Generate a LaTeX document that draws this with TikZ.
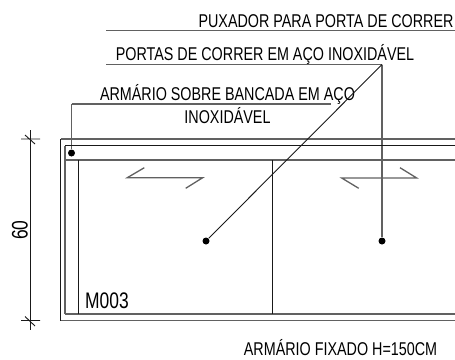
\documentclass[tikz,border=0pt]{standalone}
\usepackage{fontspec}
\setmainfont{Liberation Sans}[FakeStretch=0.775]
\usetikzlibrary{positioning}

\begin{document}
\begin{tikzpicture}[x=1pt, y=-1pt, thick]
 \tikzstyle{note} = [inner sep=0pt, font=\fontsize{18.5}{18.5}\selectfont, text=black]
 \tikzstyle{bignote} = [note, font=\fontsize{22.5}{22.5}\selectfont]
 \tikzstyle{dot} = [circle, fill=black, inner sep=0pt, minimum size=7pt]
 \tikzstyle{grayline} = [draw=black!62, line width=1.3pt]
 \tikzstyle{thinline} = [draw=black!90, line width=0.9pt]
 \useasboundingbox (0,0) rectangle (455,359);

   % texts
   \node[note] (puxador) at (326,21) {PUXADOR PARA PORTA DE CORRER};
   \node[note] (portas) at (265,54) {PORTAS DE CORRER EM AÇO INOXIDÁVEL};
   \node[note] (armario) at (227.5,94) {ARMÁRIO SOBRE BANCADA EM AÇO};
   \node[note] (inox) at (227.5,116) {INOXIDÁVEL};
   \node[note] (fixado) at (340.5,348) {ARMÁRIO FIXADO H=150CM};
   \node[bignote] (mcode) at (107,301) {M003};
   \node[bignote, rotate=90] (cota) at (20,230) {60};

   % leader dots
   \node[dot] (dotA) at (71.5,153) {};
   \node[dot] (dotB) at (206,241) {};
   \node[dot] (dotC) at (382,241) {};

   % free ends
   \coordinate (puxL) at (106,30.5);
   \coordinate (puxR) at (455,30.5);
   \coordinate (porL) at (106,64.5);
   \coordinate (porR) at (382,64.5);
   \coordinate (armL) at (71.5,104);
   \coordinate (armR) at (331,104);
   \coordinate (outTL) at (60.5,139);
   \coordinate (outTR) at (455,139);
   \coordinate (outBL) at (60.5,320.5);
   \coordinate (outBR) at (455,320.5);
   \coordinate (inTL) at (65,145.5);
   \coordinate (inTR) at (455,145.5);
   \coordinate (inBL) at (65,314);
   \coordinate (inBR) at (455,314);
   \coordinate (railL) at (65,160);
   \coordinate (railR) at (455,160);
   \coordinate (sideT) at (78.5,160);
   \coordinate (sideB) at (78.5,314);
   \coordinate (midT) at (272,160);
   \coordinate (midB) at (272,314);
   \coordinate (dimT) at (30,130);
   \coordinate (dimB) at (30,330);

 \path[grayline]
	(puxL) edge (puxR)
	(porL) edge (porR)
	(armL) edge (armR)
	(armL) edge (dotA)
	(porR) edge (dotC)
	(outTL) edge (outTR)
	(outBL) edge (outBR)
	(inBL) edge (inBR)
	(railL) edge (railR)
	(inTL) edge (inBL);
 \path[thinline]
	(porR) edge (dotB)
	(outTL) edge (outBL)
	(inTL) edge (inTR)
	(sideT) edge (sideB)
	(midT) edge (midB)
	(dimT) edge (dimB);

   % ticks of the dimension
   \draw[thinline] (21,139) -- (40,139) (25,135) -- (35,144);
   \draw[thinline] (21,320.5) -- (40,320.5) (25,316.5) -- (35,326);

   % sliding door symbols
   \draw[grayline] (144.3,167.7) -- (127.3,177.7) -- (202.7,177.7) -- (185.7,188.3);
   \draw[grayline] (358.7,188.3) -- (341.7,178) -- (416.7,178) -- (400,167.7);
  \end{tikzpicture}
\end{document}
